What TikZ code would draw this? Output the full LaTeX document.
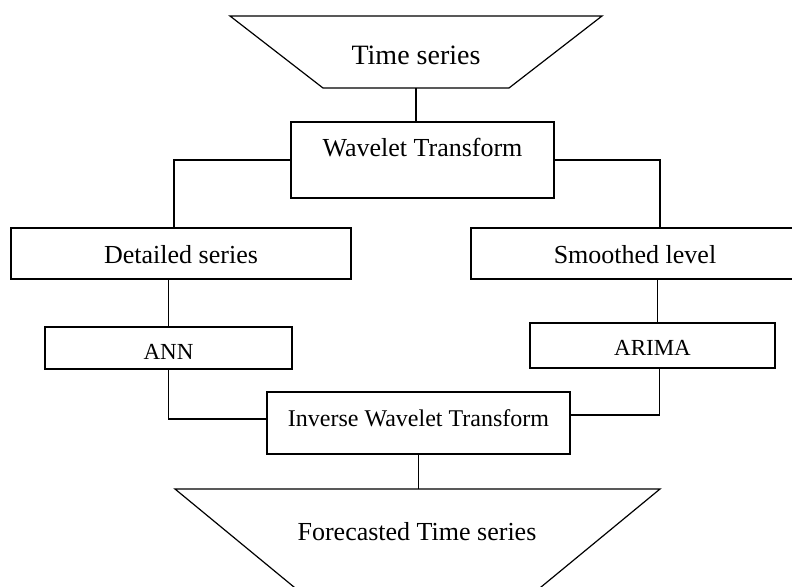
\documentclass[tikz,border=0pt]{standalone}
\usepackage{fontspec}
\setmainfont{Liberation Serif}

\begin{document}
\begin{tikzpicture}[x=1pt,y=-1pt,line width=1.2pt,line join=miter,
  box/.style={draw,rectangle,inner sep=0pt,font=\fontsize{26}{30}\selectfont},
  txt/.style={anchor=base,inner sep=0pt,font=\fontsize{26}{30}\selectfont}]
  \useasboundingbox (0,0) rectangle (792,586);

  % input and output funnels
  \draw (230,16) -- (602,16) -- (509,88) -- (323,88) -- cycle;
  \coordinate (tsb) at (416,88);
  \node[txt,font=\fontsize{28}{32}\selectfont] (ts) at (416,65) {Time series};
  \draw (175,489) -- (660,489) -- (501,620) -- (334,620) -- cycle;
  \coordinate (ftst) at (417.5,489);
  \node[txt] (fts) at (417,540) {Forecasted Time series};

  % boxes
  \node[box,minimum width=263pt,minimum height=76pt,text height=18pt,text depth=26pt] (wt) at (422.5,160) {Wavelet Transform};
  \node[box,minimum width=340pt,minimum height=51pt,text height=19pt,text depth=0pt] (ds) at (181,253.5) {Detailed series};
  \node[box,minimum width=328pt,minimum height=51pt,text height=19pt,text depth=0pt] (sl) at (635,253.5) {Smoothed level};
  \node[box,font=\fontsize{23}{27}\selectfont,minimum width=247pt,minimum height=42pt,text height=22pt,text depth=0pt] (ann) at (168.5,348) {ANN};
  \node[box,font=\fontsize{23}{27}\selectfont,minimum width=245pt,minimum height=45pt,text height=19pt,text depth=0pt] (arima) at (652.5,345.5) {ARIMA};
  \node[box,font=\fontsize{24}{28}\selectfont,minimum width=303pt,minimum height=62pt,text height=16pt,text depth=10pt] (inv) at (418.5,423) {Inverse Wavelet Transform};

  % connectors
  \draw (tsb) -- (tsb |- wt.north);
  \draw (wt.west) -| ([xshift=-7pt]ds.north);
  \draw (wt.east) -| ([xshift=25pt]sl.north);
  \draw (ann.north |- ds.south) -- (ann.north);
  \draw ([xshift=5pt]arima.north |- sl.south) -- ([xshift=5pt]arima.north);
  \draw (ann.south) |- ([yshift=4pt]inv.west);
  \draw ([xshift=7pt]arima.south) |- ([yshift=8pt]inv.east);
  \draw (inv.south) -- (inv.south |- ftst);
\end{tikzpicture}
\end{document}
